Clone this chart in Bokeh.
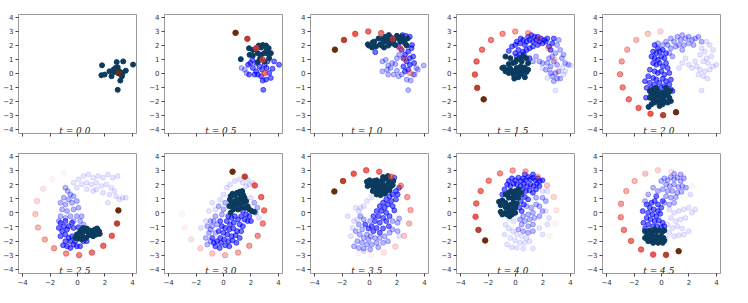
from bokeh.plotting import figure
from bokeh.layouts import column, row
from bokeh.models import FixedTicker, ColumnDataSource, CustomJSTickFormatter
from bokeh.core.properties import value
from bokeh.embed import file_html
from bokeh.resources import INLINE

times = [0.0, 0.5, 1.0, 1.5, 2.0, 2.5, 3.0, 3.5, 4.0, 4.5]
y_ticks = [-4, -3, -2, -1, 0, 1, 2, 3, 4]
x_ticks = [-4, -2, 0, 2, 4]

# ---------------- t = 0.0 ----------------
t00_trail = [(3.0, 0.0)]
t00_navy = [(1.79, 0.57), (1.74, -0.14), (1.98, -0.09), (2.33, 0.14), (2.48, -0.21), (2.62, 0.26),
            (2.76, 0.38), (2.86, 0.8), (2.93, 0.43), (3.12, -0.52), (3.24, -0.21), (3.33, 0.85),
            (3.29, 0.02), (3.52, 0.19), (4.05, 0.62), (2.93, -1.18), (2.69, 0.09), (3.05, 0.14)]
t00_hi = []
t00_mid = []
t00_lo = []

# ---------------- t = 0.5 ----------------
t05_trail = [(3.0, 0.02), (2.86, 0.97), (2.38, 1.8), (1.74, 2.46), (0.88, 2.89)]
t05_navy = [(1.86, 1.79), (2.14, 1.67), (2.33, 1.74), (2.57, 1.98), (2.74, 1.84), (3.1, 1.98),
            (3.29, 1.79), (1.9, 1.32), (2.14, 1.27), (2.5, 1.44), (2.74, 1.32), (2.98, 1.44),
            (3.29, 1.36), (3.45, 1.44), (1.26, 1.01), (2.67, 1.08), (3.33, 1.08), (2.98, 0.85),
            (2.5, 0.8), (2.86, 2.02), (3.14, 1.67)]
t05_hi = [(1.79, 0.61), (1.95, 0.73), (2.14, 0.38), (2.38, 0.14), (2.62, 0.49), (2.81, 0.26),
          (3.0, 0.61), (3.14, 0.38), (3.33, 0.02), (3.57, 0.33), (3.69, 0.85), (4.05, 0.61),
          (2.5, -0.09), (2.74, -0.21), (3.1, -0.45), (2.86, -0.52), (3.45, -0.33), (2.9, -1.18),
          (1.86, -0.09), (2.26, -0.09), (2.1, 0.96), (3.21, 0.85), (2.38, 0.73)]
t05_mid = [(1.31, 0.38), (1.55, 0.26), (1.67, 0.02)]
t05_lo = []

# ---------------- t = 1.0 ----------------
t10_trail = [(2.95, 0.02), (2.6, 1.0), (2.24, 1.79), (1.69, 2.45), (0.85, 2.87), (-0.09, 2.99),
             (-1.04, 2.82), (-1.86, 2.38), (-2.52, 1.69)]
t10_navy = [(-0.12, 2.07), (-0.05, 1.98), (0.24, 2.21), (0.35, 2.26), (0.19, 1.84), (0.47, 1.91),
            (0.78, 2.07), (0.94, 2.45), (1.06, 2.26), (1.18, 2.61), (1.29, 2.49), (1.41, 2.73),
            (1.41, 2.26), (1.6, 2.54), (1.65, 2.14), (1.76, 2.38), (2.0, 2.68), (2.12, 2.49),
            (2.24, 2.26), (2.35, 2.61), (2.47, 2.38), (2.59, 2.14), (2.71, 1.98), (2.78, 2.49),
            (1.88, 2.02), (1.06, 1.84), (1.36, 1.98), (0.66, 2.49), (0.89, 1.98)]
t10_hi = [(0.42, 1.51), (2.4, 2.73), (2.64, 2.68), (2.94, 2.61), (2.12, 1.91), (2.35, 1.67),
          (2.59, 1.32), (2.82, 1.55), (3.06, 1.79), (3.18, 1.2), (2.71, 0.85), (2.94, 0.61),
          (2.47, 0.49), (3.25, 0.73), (2.82, 0.26), (2.59, 0.14), (3.1, 2.02), (2.47, 1.08),
          (2.94, 1.08)]
t10_mid = [(1.18, 0.96), (1.36, 0.56), (1.53, 0.38), (1.65, 0.73), (1.88, 0.66), (2.0, 0.19),
           (1.76, -0.09), (1.29, 0.26), (0.94, 0.14), (2.12, -0.21), (2.35, -0.09), (2.71, -0.45),
           (3.01, -0.52), (2.82, -1.2), (3.18, -0.09), (3.41, 0.38), (3.95, 0.56), (3.29, -0.09),
           (3.53, 0.26), (1.36, -0.09), (2.0, 1.08), (2.16, 1.32), (0.94, 0.85)]
t10_lo = []

# ---------------- t = 1.5 ----------------
t15_trail = [(2.95, 0.02), (2.86, 0.97), (2.4, 1.8), (1.72, 2.45), (0.92, 2.87), (-0.02, 2.99),
             (-0.94, 2.82), (-1.78, 2.38), (-2.44, 1.69), (-2.84, 0.85), (-2.96, -0.09),
             (-2.79, -1.04), (-2.32, -1.86)]
t15_navy = [(-0.96, 0.38), (-0.85, 0.42), (-0.73, 0.14), (-0.61, 0.26), (-0.49, 0.02), (-0.38, 0.33),
            (-0.26, 0.14), (-0.14, -0.09), (-0.02, 0.19), (0.09, 0.38), (0.21, 0.02), (0.33, 0.14),
            (0.45, -0.05), (0.56, 0.26), (0.68, 0.42), (0.8, 0.09), (0.92, 0.26), (-0.19, 0.73),
            (-0.02, 0.8), (0.09, 0.96), (0.28, 1.08), (0.45, 0.85), (0.56, 1.2), (0.8, 1.08),
            (0.92, 0.73), (0.38, 0.49), (-0.49, 0.66), (-0.73, 1.2), (-0.38, 1.08), (0.68, -0.28),
            (0.21, -0.28), (-0.09, -0.38)]
t15_hi = [(-0.49, 1.6), (-0.26, 1.91), (-0.02, 2.02), (0.09, 2.26), (0.33, 2.14), (0.38, 2.49),
          (0.56, 2.38), (0.68, 2.02), (0.8, 2.26), (0.92, 2.61), (1.03, 2.38), (1.15, 2.73),
          (1.27, 2.26), (1.38, 2.61), (1.5, 2.38), (1.62, 2.61), (1.74, 2.26), (1.85, 2.49),
          (1.97, 2.14), (2.09, 2.38), (2.21, 2.26), (2.32, 2.49), (1.27, 1.91), (1.03, 1.79),
          (0.8, 1.67), (0.56, 1.55), (0.21, 1.67), (-0.02, 1.44), (0.33, 1.32), (0.09, 1.2),
          (2.44, 1.91), (2.68, 2.14), (2.79, 2.49), (2.56, 1.67), (0.61, 1.36), (1.03, 1.08),
          (1.62, 2.02)]
t15_mid = [(3.15, 2.38), (3.03, 2.02), (3.26, 1.67), (2.91, 1.44), (2.68, 1.2), (2.44, 1.08),
           (2.32, 0.73), (2.56, 0.49), (2.79, 0.85), (3.03, 0.61), (3.38, 1.08), (3.5, 1.32),
           (3.62, 0.73), (3.85, 0.61), (3.15, 0.14), (2.91, 0.02), (2.56, 0.02), (2.21, 0.26),
           (1.97, 0.73), (1.74, 0.85), (1.27, 0.85), (1.5, 1.2), (2.68, -0.21), (3.03, -0.38),
           (3.26, -0.38), (2.79, -0.56)]
t15_lo = [(2.91, -1.22), (4.04, 0.56), (3.5, -0.09), (3.62, 0.14), (2.32, -0.33), (1.97, 0.38),
          (3.43, 0.42), (2.49, 0.26)]

# ---------------- t = 2.0 ----------------
t20_trail = [(-0.07, 2.99), (-0.99, 2.82), (-1.84, 2.38), (-2.5, 1.69), (-2.9, 0.85), (-3.02, -0.07),
             (-2.83, -1.01), (-2.38, -1.86), (-1.67, -2.47), (-0.8, -2.89), (0.12, -2.99), (1.06, -2.78)]
t20_navy = [(-0.85, -1.27), (-0.73, -1.51), (-0.61, -1.15), (-0.5, -1.39), (-0.38, -1.62), (-0.26, -1.27),
            (-0.14, -1.51), (-0.02, -1.74), (0.09, -1.39), (0.21, -1.62), (0.33, -1.27), (0.45, -1.51),
            (0.57, -1.74), (0.61, -1.27), (-0.85, -1.74), (-0.61, -1.86), (-0.5, -2.09), (-0.26, -1.98),
            (-0.02, -2.09), (0.21, -1.98), (0.45, -2.09), (-0.73, -2.21), (-0.94, -2.4), (-0.14, -2.33),
            (0.09, -2.21), (-0.38, -1.04), (0.33, -1.04), (-0.57, -1.69), (0.68, -1.98)]
t20_hi = [(-0.5, 2.02), (-0.26, 1.79), (-0.61, 1.55), (-0.38, 1.44), (-0.14, 1.55), (0.09, 1.67),
          (-0.73, 1.2), (-0.5, 1.08), (-0.26, 0.96), (-0.02, 1.2), (0.21, 1.08), (0.33, 1.44),
          (-0.61, 0.73), (-0.38, 0.61), (-0.14, 0.73), (0.09, 0.49), (0.33, 0.73), (0.45, 0.38),
          (-0.85, 0.26), (-0.5, 0.14), (-0.26, 0.02), (-0.02, 0.14), (0.21, -0.09), (0.57, 0.02),
          (-0.97, -0.21), (-0.61, -0.33), (-0.38, -0.45), (0.09, -0.38), (0.33, -0.56), (0.68, -0.45),
          (-1.2, -0.56), (-0.85, -0.68), (-0.5, -0.8), (-0.14, -0.68), (0.21, -0.92), (0.57, -0.8),
          (-1.08, -1.04), (-0.73, -1.04), (-0.02, -1.04), (0.68, -1.15), (-1.13, -1.74), (0.8, -1.27)]
t20_mid = [(0.68, 2.49), (0.92, 2.26), (1.16, 2.61), (1.39, 2.38), (1.51, 2.73), (1.75, 2.49),
           (1.98, 2.61), (2.22, 2.38), (2.45, 2.49), (2.69, 2.61), (0.45, 2.02), (0.68, 1.79),
           (1.04, 1.91), (1.27, 2.02), (1.63, 2.02), (1.98, 2.14), (0.33, 2.26), (0.09, 2.02),
           (-0.26, 2.14), (2.92, 2.26), (2.33, 2.02), (1.51, 1.67), (0.57, 1.44), (0.8, 1.2)]
t20_lo = [(2.92, 1.79), (3.16, 1.55), (2.81, 1.32), (3.28, 1.08), (3.04, 0.85), (3.4, 0.73),
          (3.63, 1.2), (3.75, 0.49), (3.99, 0.61), (3.51, 0.26), (3.16, 0.14), (2.81, 0.26),
          (2.57, 0.49), (2.69, -0.09), (3.04, -0.21), (3.35, -0.38), (2.92, -1.22), (2.45, 0.85),
          (2.22, 0.38), (1.98, 0.61), (1.51, 0.73), (1.75, 1.08), (1.27, 0.38), (3.51, 2.02),
          (3.28, 2.26), (3.75, 1.67)]

# ---------------- t = 2.5 ----------------
t25_trail = [(-1.0, 2.79), (-1.83, 2.37), (-2.5, 1.7), (-2.95, 0.83), (-3.07, -0.09), (-2.88, -1.04),
             (-2.38, -1.89), (-1.71, -2.51), (-0.83, -2.89), (0.12, -3.0), (1.05, -2.82), (1.88, -2.34),
             (2.5, -1.63), (2.88, -0.76), (2.98, 0.17)]
t25_navy = [(-0.17, -1.78), (-0.05, -1.54), (0.14, -1.42), (0.24, -1.25), (0.43, -1.07), (0.55, -1.3),
            (0.67, -1.11), (0.79, -1.42), (0.9, -1.25), (0.38, -1.66), (0.62, -1.78), (0.07, -1.82),
            (1.02, -1.42), (1.14, -1.3), (1.26, -1.18), (1.43, -1.11), (1.57, -1.3), (1.62, -1.49),
            (1.38, -1.54), (1.14, -1.66), (0.31, -1.89), (0.19, -1.54), (0.86, -1.59)]
t25_hi = [(-1.24, -0.71), (-1.0, -0.95), (-1.12, -1.3), (-0.88, -1.54), (-0.76, -1.18), (-0.64, -1.78),
          (-0.52, -2.01), (-0.4, -1.66), (-0.29, -2.25), (-0.17, -2.01), (-0.88, -2.01), (-0.76, -2.37),
          (-1.05, -2.3), (-0.52, -2.49), (-0.05, -2.37), (0.19, -2.37), (0.43, -2.01), (0.67, -2.01),
          (-0.64, -0.95), (-0.29, -1.07), (0.07, -1.02), (-0.4, -0.71), (-0.88, -0.59), (-1.36, -1.07),
          (-1.24, -1.66)]
t25_mid = [(-0.88, 1.78), (-0.71, 1.54), (-0.52, 1.3), (-1.0, 1.07), (-0.64, 0.95), (-0.29, 1.18),
           (-1.24, 0.71), (-0.88, 0.59), (-0.4, 0.71), (-0.05, 0.83), (-1.12, 0.24), (-0.76, 0.12),
           (-0.29, 0.24), (0.07, 0.36), (-1.24, -0.24), (-0.88, -0.36), (-0.52, -0.24), (-0.05, -0.24),
           (0.31, -0.24), (-0.29, -0.59), (-1.36, -0.59), (0.19, -0.59), (0.43, -0.83)]
t25_lo = [(-0.29, 2.13), (0.07, 2.37), (0.43, 2.6), (0.79, 2.72), (1.14, 2.49), (1.5, 2.6),
          (1.86, 2.49), (2.21, 2.72), (2.57, 2.49), (2.93, 2.6), (0.31, 2.01), (0.67, 2.13),
          (1.02, 2.01), (1.38, 2.13), (1.74, 1.89), (2.1, 2.01), (2.45, 1.78), (2.69, 1.54),
          (2.81, 1.18), (3.05, 0.95), (3.29, 1.07), (2.33, 1.3), (1.86, 1.42), (1.14, 1.54),
          (0.67, 1.66), (-0.05, 1.78), (1.38, 1.66), (2.21, 0.71), (3.52, 1.07)]

# ---------------- t = 3.0 ----------------
t30_trail = [(-3.01, -0.09), (-2.82, -1.04), (-2.35, -1.89), (-1.69, -2.51), (-0.82, -2.89), (0.12, -3.0),
             (1.06, -2.82), (1.88, -2.34), (2.49, -1.63), (2.87, -0.76), (2.96, 0.17), (2.75, 1.11),
             (2.28, 1.94), (1.55, 2.56), (0.66, 2.91)]
t30_navy = [(0.52, 1.18), (0.66, 1.35), (0.82, 1.25), (0.99, 1.42), (1.18, 1.49), (1.36, 1.54),
            (1.41, 1.3), (1.53, 1.07), (1.29, 1.02), (1.06, 0.95), (0.82, 0.83), (0.59, 0.71),
            (0.47, 0.95), (0.71, 0.47), (0.94, 0.59), (1.18, 0.64), (1.41, 0.71), (1.65, 0.83),
            (1.76, 0.47), (1.88, 0.24), (2.07, 0.12), (2.24, 0.07), (1.6, 0.36), (1.29, 0.36),
            (1.06, 0.24), (0.71, 0.24), (0.52, 0.0), (0.42, 0.47), (1.46, 1.18), (1.22, 1.3)]
t30_hi = [(0.35, -0.24), (0.59, -0.36), (0.82, -0.24), (1.06, -0.47), (1.29, -0.24), (1.53, -0.47),
          (1.76, -0.59), (0.24, -0.59), (0.47, -0.83), (0.75, -0.71), (1.18, -0.83), (1.41, -0.95),
          (0.12, -1.07), (0.42, -1.18), (0.71, -1.11), (0.99, -1.3), (1.29, -1.3), (0.0, -1.42),
          (0.28, -1.54), (0.59, -1.66), (0.89, -1.59), (1.18, -1.78), (-0.24, -1.78), (0.05, -1.89),
          (0.35, -2.01), (0.66, -1.96), (0.94, -2.13), (-0.47, -2.01), (-0.19, -2.13), (0.12, -2.3),
          (0.42, -2.37), (-0.59, -2.37), (-0.28, -2.49), (-0.71, -2.13), (-0.82, -1.78), (-0.35, -1.3),
          (-0.12, -0.95), (1.41, 0.12), (1.65, -0.12), (1.88, -0.24), (2.0, -0.59), (-0.24, -0.59)]
t30_mid = [(-0.59, -0.24), (-0.94, -0.59), (-1.18, -0.95), (-0.82, -0.95), (-0.59, -1.42), (-1.06, -1.42),
           (-1.29, -1.78), (-0.94, -2.01), (-1.18, -2.25), (-0.71, -0.59), (-0.47, -0.83), (-0.94, -1.18),
           (0.0, 0.24), (-0.12, -0.12), (-0.35, 0.47), (0.12, 0.71), (2.35, 0.0), (2.47, 0.36), (2.24, 0.71)]
t30_lo = [(0.24, 1.78), (0.47, 2.01), (0.82, 2.25), (1.18, 2.37), (1.41, 2.13), (1.65, 1.89),
          (1.88, 2.01), (2.12, 2.13), (1.76, 2.37), (0.0, 1.3), (-0.24, 0.95), (-0.59, 0.24),
          (2.0, 1.07), (2.59, -0.36), (-0.82, 0.71), (-1.06, 0.12), (-1.29, -0.59), (-1.65, -1.07)]

# ---------------- t = 3.5 ----------------
t35_trail = [(-0.82, -2.89), (0.12, -3.0), (1.05, -2.82), (1.88, -2.39), (2.52, -1.63), (2.89, -0.76),
             (2.99, 0.19), (2.75, 1.11), (2.28, 1.92), (1.58, 2.56), (0.71, 2.91), (-0.24, 3.01),
             (-1.15, 2.77), (-1.93, 2.25), (-2.56, 1.51)]
t35_navy = [(-0.19, 2.2), (0.0, 2.3), (0.16, 2.13), (0.33, 2.25), (0.52, 2.3), (0.71, 2.13),
            (0.87, 2.25), (1.04, 2.37), (1.22, 2.44), (1.41, 2.3), (1.58, 2.2), (1.74, 2.25),
            (-0.14, 1.89), (0.09, 1.96), (0.28, 1.82), (0.47, 1.96), (0.64, 1.78), (0.8, 1.89),
            (0.99, 2.01), (1.18, 1.89), (1.34, 2.01), (1.51, 1.82), (1.69, 1.96), (0.24, 1.54),
            (0.42, 1.59), (0.64, 1.42), (0.87, 1.54), (1.04, 1.66), (1.22, 1.54), (1.46, 1.59),
            (0.52, 1.3), (0.8, 1.25), (1.11, 1.35), (0.99, 2.53), (1.34, 2.6)]
t35_hi = [(1.46, 1.18), (1.69, 1.3), (2.05, 1.3), (1.93, 0.95), (1.58, 0.83), (1.22, 0.95),
          (0.99, 0.71), (1.34, 0.59), (1.69, 0.47), (1.11, 0.36), (0.75, 0.47), (0.87, 0.12),
          (0.52, 0.12), (1.22, 0.0), (1.46, -0.24), (0.64, -0.24), (0.99, -0.36), (0.28, -0.24),
          (0.4, -0.59), (0.75, -0.71), (1.22, -0.59), (0.16, -0.95), (0.52, -1.07), (0.99, -1.11),
          (0.28, -1.3), (0.75, -1.42), (-0.07, -1.11), (-0.31, -0.83), (1.41, -0.95), (1.81, 0.17),
          (1.93, 1.54), (2.16, 1.78), (1.81, 2.49)]
t35_mid = [(-0.42, -0.47), (-0.78, -0.83), (-0.54, -1.18), (-0.19, -1.54), (0.09, -1.66), (0.4, -1.78),
           (0.75, -1.78), (1.11, -1.66), (1.46, -1.42), (1.69, -1.18), (2.05, -1.3), (-0.07, -1.89),
           (-0.42, -1.78), (-0.71, -1.54), (-1.01, -1.3), (-0.89, -2.01), (-0.54, -2.13), (-0.19, -2.25),
           (0.16, -2.25), (0.52, -2.13), (0.99, -2.13), (1.34, -2.01), (-1.13, -2.37), (-0.78, -2.49),
           (-0.42, -2.54), (0.05, -2.6), (0.64, -2.44), (-0.66, -0.24), (0.05, -0.59), (1.69, -0.59),
           (2.05, -0.71), (2.16, -0.4)]
t35_lo = [(-1.01, 0.36), (-0.78, 0.12), (-1.13, -0.59), (-1.25, -1.07), (-1.36, -1.66), (-0.89, -0.47),
          (-0.42, -2.72), (2.16, -1.66), (0.16, 1.07), (-0.19, 0.83), (-0.42, 0.47), (-0.66, 0.36),
          (-1.6, -0.24)]

# ---------------- t = 4.0 ----------------
t40_trail = [(2.49, -1.63), (2.9, -0.76), (2.98, 0.17), (2.79, 1.11), (2.3, 1.94), (1.62, 2.56),
             (0.73, 2.93), (-0.21, 3.0), (-1.13, 2.79), (-1.95, 2.27), (-2.54, 1.54), (-2.86, 0.66),
             (-2.91, -0.28), (-2.7, -1.21), (-2.21, -1.96)]
t40_navy = [(-1.2, 0.78), (-0.96, 0.88), (-0.73, 0.71), (-1.08, 0.54), (-0.49, 1.42), (-0.33, 1.54),
            (-0.14, 1.3), (-0.02, 1.54), (0.09, 1.42), (0.21, 1.66), (-0.19, 1.02), (0.05, 1.07),
            (-0.49, 1.07), (-0.73, 1.3), (-0.56, 0.47), (-0.33, 0.59), (-0.14, 0.71), (0.09, 0.64),
            (-0.26, 0.24), (-0.02, 0.36), (-0.49, 0.12), (-0.73, 0.0), (-0.96, -0.12), (-0.61, -0.12),
            (-0.26, -0.12), (-0.02, 0.0), (-1.08, 0.07), (-0.42, -0.24), (0.21, 1.07), (0.38, 1.42),
            (-0.73, 0.4)]
t40_hi = [(-0.49, 2.25), (-0.26, 2.44), (-0.02, 2.3), (0.21, 2.49), (0.38, 2.25), (0.56, 2.44),
          (0.75, 2.3), (0.92, 2.53), (1.08, 2.37), (1.27, 2.49), (1.46, 2.3), (1.62, 2.44),
          (1.78, 2.25), (1.97, 2.3), (0.09, 2.01), (0.38, 1.89), (0.61, 2.06), (0.85, 1.89),
          (1.08, 2.01), (1.31, 1.89), (1.55, 2.06), (1.74, 1.89), (0.52, 1.66), (0.75, 1.54),
          (1.03, 1.59), (1.27, 1.42), (1.5, 1.66), (0.45, 1.3), (0.68, 1.11), (0.92, 0.95),
          (0.38, 0.83), (0.61, 0.59), (0.28, 0.36), (0.45, 0.12), (-0.61, 2.01), (-0.8, 1.66),
          (-0.96, 1.3), (-0.38, 1.89), (-0.14, 2.06), (1.27, 2.72), (0.68, 2.72)]
t40_mid = [(0.8, 0.47), (1.15, 0.36), (1.5, 0.59), (1.27, 0.0), (0.92, -0.12), (0.56, -0.24),
           (0.33, -0.47), (0.68, -0.59), (1.03, -0.47), (1.38, -0.36), (1.74, -0.24), (1.97, 0.12),
           (1.74, 0.47), (1.5, 1.07), (1.97, 1.07), (2.21, 0.83), (1.27, -0.83), (0.92, -0.95),
           (0.45, -0.83), (0.21, -1.18), (0.56, -1.3), (0.92, -1.42), (1.27, -1.3)]
t40_lo = [(-0.73, -0.83), (-0.49, -1.11), (-0.19, -1.3), (0.09, -1.54), (0.45, -1.66), (0.8, -1.78),
          (-0.38, -1.78), (-0.02, -1.96), (0.33, -2.13), (0.68, -2.13), (1.03, -2.01), (-0.61, -2.25),
          (-0.26, -2.44), (0.09, -2.49), (0.56, -2.53), (1.27, -2.53), (-0.8, -1.54), (2.21, 0.12),
          (2.44, -0.36), (2.32, -0.83), (1.74, -1.07), (1.97, -1.54), (-0.14, -0.59), (-0.49, -0.36),
          (1.97, 1.54), (2.32, 1.54)]

# ---------------- t = 4.5 ----------------
t45_trail = [(2.25, 1.92), (1.6, 2.56), (0.71, 2.91), (-0.26, 3.01), (-1.18, 2.77), (-1.96, 2.25),
             (-2.57, 1.54), (-2.95, 0.64), (-2.97, -0.31), (-2.74, -1.21), (-2.22, -1.99), (-1.49, -2.6),
             (-0.61, -2.96), (0.33, -2.98), (1.25, -2.72)]
t45_navy = [(-1.2, -1.3), (-1.04, -1.42), (-0.85, -1.25), (-0.66, -1.35), (-0.5, -1.18), (-0.33, -1.3),
            (-0.14, -1.25), (0.05, -1.35), (0.21, -1.25), (-1.08, -1.66), (-0.9, -1.78), (-0.73, -1.59),
            (-0.57, -1.73), (-0.38, -1.66), (-0.19, -1.82), (-0.02, -1.66), (0.14, -1.78), (-0.97, -2.01),
            (-0.78, -1.96), (-0.61, -2.13), (-0.42, -2.01), (-0.24, -2.13), (-0.02, -2.01), (0.21, -1.96),
            (-1.2, -1.78), (0.09, -2.13)]
t45_hi = [(-0.73, 0.71), (-0.5, 0.83), (-0.26, 0.59), (-0.85, 0.36), (-0.57, 0.24), (-0.26, 0.12),
          (-0.02, 0.36), (-0.97, 0.0), (-0.66, -0.12), (-0.38, -0.24), (-0.09, -0.07), (-1.08, -0.36),
          (-0.8, -0.47), (-0.5, -0.59), (-0.19, -0.54), (0.09, -0.71), (-1.32, -0.71), (-0.97, -0.83),
          (-0.61, -0.95), (-0.33, -0.95), (-0.02, -1.02), (-1.2, -1.11), (0.21, -0.95), (-1.37, 0.12),
          (-1.08, 0.59), (0.09, 0.83), (-0.38, 1.18)]
t45_mid = [(-0.02, 2.25), (0.21, 2.44), (0.45, 2.3), (0.68, 2.53), (0.92, 2.37), (1.16, 2.49),
           (1.39, 2.25), (1.63, 2.44), (0.33, 2.01), (0.61, 1.89), (0.92, 2.01), (1.23, 1.82),
           (1.51, 1.89), (0.09, 1.66), (0.45, 1.54), (0.8, 1.54), (1.16, 1.42), (1.46, 1.49),
           (0.33, 1.18), (0.68, 1.07), (1.04, 1.11), (0.21, 0.71), (0.57, 0.59), (0.92, 0.71),
           (-0.97, 1.3), (-1.2, 0.83), (-0.61, 1.78), (-0.26, 1.54), (1.39, 2.72), (0.92, 2.77),
           (1.79, 1.78)]
t45_lo = [(0.57, 0.24), (0.92, 0.0), (1.27, 0.12), (1.63, 0.24), (1.98, 0.36), (0.68, -0.36),
          (1.04, -0.59), (1.39, -0.47), (1.75, -0.36), (0.45, -0.83), (0.8, -1.07), (1.16, -0.95),
          (1.51, -1.11), (0.57, -1.42), (0.92, -1.66), (1.27, -1.59), (1.63, -1.54), (1.98, -1.3),
          (0.33, -1.78), (2.22, 0.0), (2.45, 0.24), (2.1, 1.3)]

panels = [
    (t00_trail, t00_navy, t00_hi, t00_mid, t00_lo),
    (t05_trail, t05_navy, t05_hi, t05_mid, t05_lo),
    (t10_trail, t10_navy, t10_hi, t10_mid, t10_lo),
    (t15_trail, t15_navy, t15_hi, t15_mid, t15_lo),
    (t20_trail, t20_navy, t20_hi, t20_mid, t20_lo),
    (t25_trail, t25_navy, t25_hi, t25_mid, t25_lo),
    (t30_trail, t30_navy, t30_hi, t30_mid, t30_lo),
    (t35_trail, t35_navy, t35_hi, t35_mid, t35_lo),
    (t40_trail, t40_navy, t40_hi, t40_mid, t40_lo),
    (t45_trail, t45_navy, t45_hi, t45_mid, t45_lo),
]

NAVY = "#0b3b5f"
BLUE = "#0000ff"
minus_fmt = CustomJSTickFormatter(code="return tick < 0 ? '\\u2212' + (-tick) : '' + tick;")


def xy(pts):
    return [p[0] for p in pts], [p[1] for p in pts]


def make_panel(i):
    bottom = i >= 5
    trail, navy, hi, mid, lo = panels[i]
    p = figure(width=146, height=148 if bottom else 139,
               x_range=(-4.3, 4.3), y_range=(-4.3, 4.2),
               output_backend="svg", toolbar_location=None, tools="",
               min_border_left=16, min_border_right=10, min_border_top=14,
               min_border_bottom=14 if bottom else 6)
    p.xgrid.visible = False
    p.ygrid.visible = False
    p.outline_line_color = "#9a9a9a"
    p.outline_line_width = 1
    p.background_fill_color = "white"
    p.border_fill_color = "white"
    for ax in (p.xaxis[0], p.yaxis[0]):
        ax.axis_line_color = None
        ax.major_tick_line_color = "#444444"
        ax.major_tick_out = 3
        ax.major_tick_in = 0
        ax.minor_tick_line_color = None
        ax.major_label_standoff = 2
        ax.major_label_text_font = "DejaVu Sans"
        ax.major_label_text_font_size = "7px"
        ax.major_label_text_color = "#333333"
        ax.formatter = minus_fmt
    p.yaxis[0].ticker = FixedTicker(ticks=y_ticks)
    p.xaxis[0].ticker = FixedTicker(ticks=x_ticks)
    if not bottom:
        # shared x axis: ticks only, no labels on the top row
        p.xaxis[0].major_label_text_font_size = "0px"
        p.xaxis[0].major_label_standoff = 0
        p.xaxis[0].major_label_overrides = {t: "" for t in x_ticks}
        p.xaxis[0].formatter = CustomJSTickFormatter(code="return '';")

    for pts, alpha in ((lo, 0.1), (mid, 0.28), (hi, 0.55)):
        if pts:
            x, y = xy(pts)
            p.scatter(x, y, size=5, marker="circle", fill_color=BLUE, line_color=BLUE,
                      fill_alpha=alpha, line_alpha=alpha)
    if navy:
        x, y = xy(navy)
        p.scatter(x, y, size=5, marker="circle", fill_color=NAVY, line_color=NAVY)

    # trail of the moving source (oldest -> newest), drawn on top
    n = len(trail)
    tx, ty = xy(trail)
    ages = [n - 1 - k for k in range(n)]
    colors = []
    alphas = []
    for a in ages:
        if a == 0:
            colors.append("#6b2c0c")
            alphas.append(1.0)
        elif a == 1:
            colors.append("#b33a28")
            alphas.append(0.95)
        else:
            colors.append("#e5342f")
            alphas.append(max(0.05, 0.95 - a / 14.5))
    src = ColumnDataSource(dict(x=tx, y=ty, c=colors, a=alphas))
    p.scatter("x", "y", source=src, size=5.5, marker="circle",
              fill_color="c", line_color="c", fill_alpha="a", line_alpha="a")

    p.text(x=[-0.2], y=[-4.12], text=["t = %.1f" % times[i]],
           text_font=value("DejaVu Serif"), text_font_style="italic",
           text_font_size="9px", text_align="center", text_baseline="alphabetic",
           text_color="#222222")
    return p


figs = [make_panel(i) for i in range(10)]
layout = column(row(*figs[:5]), row(*figs[5:]))
open("out.html", "w").write(file_html(layout, INLINE))
